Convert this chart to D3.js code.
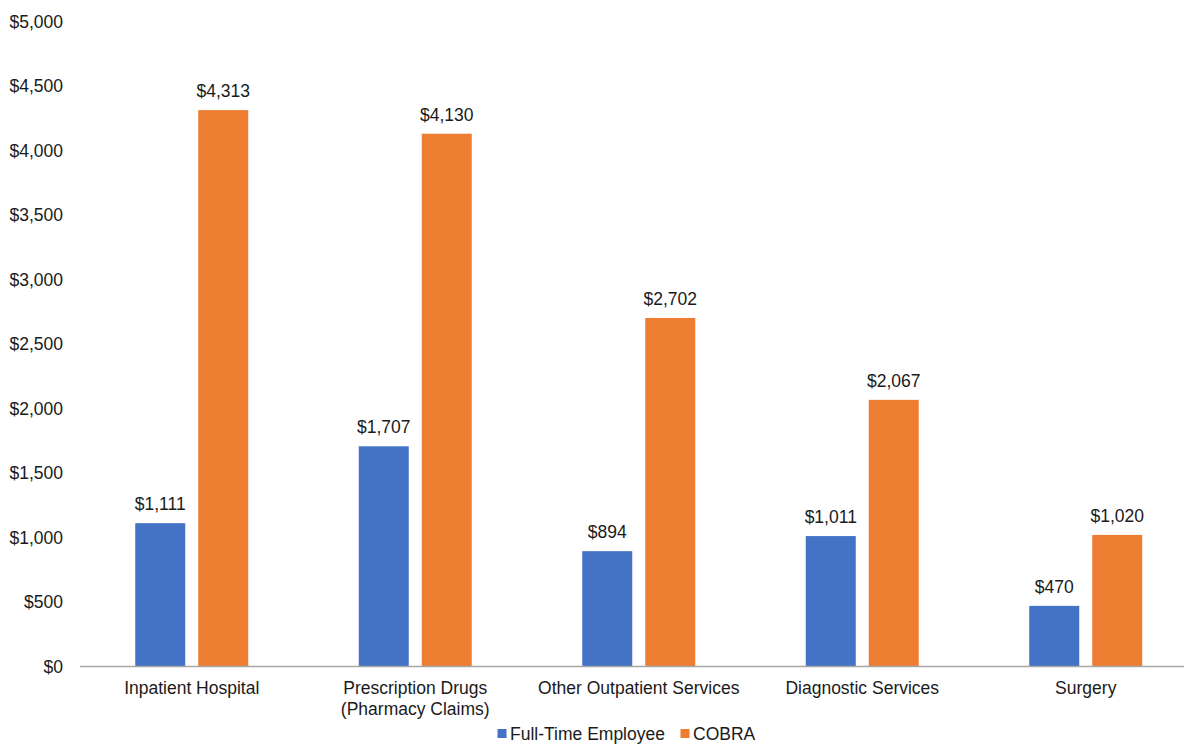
<!DOCTYPE html>
<html>
<head>
<meta charset="utf-8">
<script src="https://cdn.jsdelivr.net/npm/d3@7"></script>
<style>
  body { margin: 0; background: #fff; }
  text { font-family: "Liberation Sans", Arial, sans-serif; fill: #1a1a1a; }
</style>
</head>
<body>
<script>
/* ------------------------------- chart data ------------------------------- */
const categories = ["Inpatient Hospital", "Prescription Drugs\n(Pharmacy Claims)", "Other Outpatient Services", "Diagnostic Services", "Surgery"];
const seriesNames = ["Full-Time Employee", "COBRA"];
const fullTime = [1111, 1707, 894, 1011, 470];
const cobra = [4313, 4130, 2702, 2067, 1020];
const yTicks = [0, 500, 1000, 1500, 2000, 2500, 3000, 3500, 4000, 4500, 5000];
const colors = ["#4472C4", "#ED7D31"];

/* -------------------------- define document size -------------------------- */
const width = 1184, height = 744;
const svg = d3.select("body").append("svg").attr("width", width).attr("height", height);

const fmt = d3.format("$,");
const fs = "17.5px";

//scales
const x = d3.scaleBand().domain(categories).range([80, 1197.5]).paddingInner(0).paddingOuter(0);
const y = d3.scaleLinear().domain([0, 5000]).range([666.5, 21.5]);
const sub = d3.scaleBand().domain(seriesNames).range([0, 113]).paddingInner(13 / 63);

//y tick labels
svg.append("g").selectAll("text").data(yTicks).enter().append("text")
    .attr("x", 63)
    .attr("y", d => y(d))
    .attr("dy", "0.35em")
    .attr("text-anchor", "end")
    .style("font-size", fs)
    .text(d => fmt(d));

//bars
const rows = categories.map((c, i) => ({ cat: c, values: [fullTime[i], cobra[i]] }));
const groups = svg.selectAll("g.cat").data(rows).enter().append("g")
    .attr("class", "cat")
    .attr("transform", d => `translate(${x(d.cat) + x.bandwidth() / 2 - 56.5},0)`);

groups.selectAll("rect").data(d => d.values.map((v, j) => ({ name: seriesNames[j], v, j }))).enter().append("rect")
    .attr("x", d => sub(d.name))
    .attr("y", d => y(d.v))
    .attr("width", sub.bandwidth())
    .attr("height", d => y(0) - y(d.v))
    .attr("fill", d => colors[d.j]);

groups.selectAll("text.val").data(d => d.values.map((v, j) => ({ name: seriesNames[j], v, j }))).enter().append("text")
    .attr("class", "val")
    .attr("x", d => sub(d.name) + sub.bandwidth() / 2)
    .attr("y", d => y(d.v) - 13)
    .attr("text-anchor", "middle")
    .style("font-size", fs)
    .text(d => fmt(d.v));

//baseline
svg.append("line")
    .attr("x1", 80).attr("x2", 1197.5)
    .attr("y1", y(0)).attr("y2", y(0))
    .attr("stroke", "#a6a6a6").attr("stroke-width", 1.5);

//category labels
const xl = svg.append("g").selectAll("text").data(categories).enter().append("text")
    .attr("x", d => x(d) + x.bandwidth() / 2)
    .attr("y", 693.5)
    .attr("text-anchor", "middle")
    .style("font-size", fs);
xl.selectAll("tspan").data(d => d.split("\n")).enter().append("tspan")
    .attr("x", function () { return d3.select(this.parentNode).attr("x"); })
    .attr("dy", (d, i) => i === 0 ? 0 : 21)
    .text(d => d);

//legend
const legendPos = [497.5, 680.5];
const legend = svg.append("g").selectAll("g").data(seriesNames).enter().append("g")
    .attr("transform", (d, i) => `translate(${legendPos[i]},729)`);
legend.append("rect").attr("width", 9).attr("height", 9).attr("fill", (d, i) => colors[i]);
legend.append("text")
    .attr("x", 12.5)
    .attr("y", 4.5)
    .attr("dy", "0.35em")
    .style("font-size", fs)
    .text(d => d);
</script>
</body>
</html>
